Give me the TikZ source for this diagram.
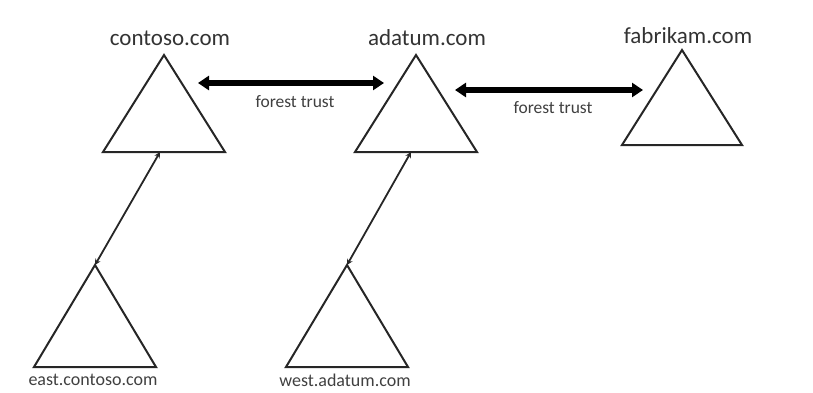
\documentclass[tikz,border=0pt]{standalone}
\usepackage{fontspec}
\setmainfont{Carlito}
\usepackage{tikz}
\usetikzlibrary{arrows.meta}
\tikzset{
  font={\fontsize{23pt}{26}\selectfont}}
\tikzset{
  domaintri/.style={draw=black!85, line width=2pt},
  trust/.style={line width=5.5pt, {Triangle[length=11pt,width=14pt]}-{Triangle[length=11pt,width=14pt]}},
  childlink/.style={draw=black!85, line width=1.8pt, {Stealth[length=6pt,width=6pt]}-{Stealth[length=6pt,width=6pt]}},
  smalltext/.style={font={\fontsize{17.5pt}{20}\selectfont}, text=black!75},
  childtext/.style={font={\fontsize{18pt}{20}\selectfont}, text=black!75}}

\begin{document}
\begin{tikzpicture}[x=1pt,y=-1pt]
%% The page is the size of the picture, in pixels
	\useasboundingbox (0,0) rectangle (813,392);
%% Forest roots
    \draw[domaintri] (164,55) coordinate (contoso) -- ++(61,97) -- ++(-122,0) -- cycle;
    \draw[domaintri] (416,55) coordinate (adatum) -- ++(61,97) -- ++(-122,0) -- cycle;
    \draw[domaintri] (682,50) coordinate (fabrikam) -- ++(60,95) -- ++(-120,0) -- cycle;
%% Child domains
    \draw[domaintri] (95,265) coordinate (east) -- ++(61,102) -- ++(-122,0) -- cycle;
    \draw[domaintri] (347,265) coordinate (west) -- ++(61,102) -- ++(-122,0) -- cycle;
%% Names
    \node[text=black!80] (contosolbl) at (170,38) {contoso.com};
    \node[text=black!80] (adatumlbl) at (427,38) {adatum.com};
    \node[text=black!80] (fabrikamlbl) at (688,36) {fabrikam.com};
    \node[childtext] (eastlbl) at (93,380) {east.contoso.com};
    \node[childtext] (westlbl) at (345,380) {west.adatum.com};
%% Trusts between the forests
    \coordinate (t1a) at (198,83);
    \coordinate (t1b) at (384,83);
    \coordinate (t2a) at (455,90);
    \coordinate (t2b) at (643,90);
    \draw[trust] (t1a) -- (t1b);
    \draw[trust] (t2a) -- (t2b);
    \node[smalltext] (trust1) at (295,102) {forest trust};
    \node[smalltext] (trust2) at (553,108) {forest trust};
%% Parent and child links
    \coordinate (contosobase) at (160,152);
    \coordinate (adatumbase) at (411,152);
    \draw[childlink] (contosobase) -- (east);
    \draw[childlink] (adatumbase) -- (west);
\end{tikzpicture}
\end{document}
